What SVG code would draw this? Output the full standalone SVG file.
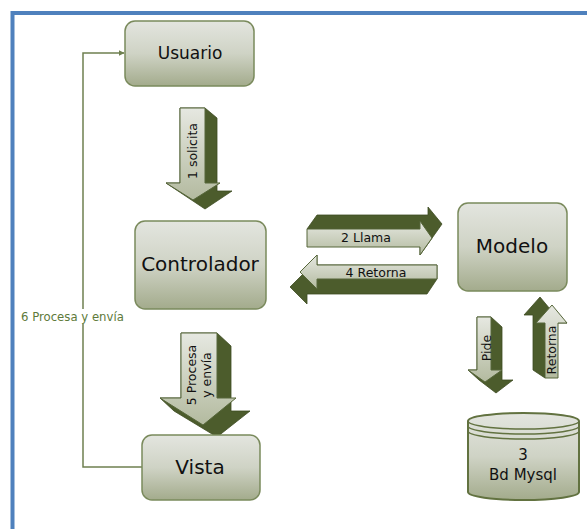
<svg xmlns="http://www.w3.org/2000/svg" width="587" height="529" viewBox="0 0 587 529">
<defs>
<linearGradient id="gNode" x1="0" y1="0" x2="0" y2="1">
<stop offset="0" stop-color="#e3e5df"/>
<stop offset="0.5" stop-color="#cfd3c5"/>
<stop offset="1" stop-color="#a3ab8c"/>
</linearGradient>
<linearGradient id="gFront" x1="0" y1="0" x2="0" y2="1">
<stop offset="0" stop-color="#e6e8e1"/>
<stop offset="1" stop-color="#b3ba9f"/>
</linearGradient>
<linearGradient id="gFrontH" x1="0" y1="0" x2="1" y2="0">
<stop offset="0" stop-color="#e6e8e1"/>
<stop offset="1" stop-color="#c0c6ae"/>
</linearGradient>
<marker id="ah" viewBox="0 0 10 10" refX="9" refY="5" markerWidth="6" markerHeight="6" orient="auto" markerUnits="userSpaceOnUse">
<path d="M0,0 L10,5 L0,10 Z" fill="#6f8050"/>
</marker>
<style>
.node{fill:url(#gNode);stroke:#7a8a5c;stroke-width:1.5}
.lbl{font-family:"DejaVu Sans",sans-serif;fill:#111;text-anchor:middle}
.dark{fill:#4c5c2c;stroke:#3e4b22;stroke-width:0.8;stroke-linejoin:round}
.front{fill:url(#gFront);stroke:#56663a;stroke-width:1;stroke-linejoin:round}
.al{font-family:"DejaVu Sans",sans-serif;fill:#111;text-anchor:middle;font-size:12.5px}
.conn{fill:none;stroke:#6f8050;stroke-width:1.5}
</style>
</defs>
<rect width="587" height="529" fill="#ffffff"/>
<path d="M12.5,529 V13 H587" fill="none" stroke="#4f81bd" stroke-width="4"/>

<g id="connectors">
<path class="conn" d="M142,467 H83 V53 H124" marker-end="url(#ah)"/>
<rect x="19" y="309" width="115" height="15" fill="#ffffff"/>
<text x="21" y="321" font-family="DejaVu Sans, sans-serif" font-size="11.7" fill="#5e7a3a">6 Procesa y envía</text>

<g id="arrow1">
<polygon class="dark" points="180,108 205,108 217,118 217,191 232,191 205,209 178,191 166,183 180,183"/>
<polygon class="front" fill="url(#gFrontH)" points="180,108 205,108 205,183 220,183 193,200 166,183 180,183"/>
<text class="al" transform="translate(197,151) rotate(-90)">1 solicita</text>
</g>

<g id="arrow5">
<polygon class="dark" points="181,333 217,333 231,346 231,411 250,411 217,437 174,411 160,398 181,398"/>
<polygon class="front" points="181,333 217,333 217,398 236,398 203,425 160,398 181,398"/>
<text class="al" font-size="13" transform="translate(196,375) rotate(-90)">5 Procesa</text>
<text class="al" font-size="13" transform="translate(211,375) rotate(-90)">y envía</text>
</g>

<g id="arrow2">
<polygon class="dark" points="307,229 317,215 428,215 428,207 442,224 430,241 420,255 420,229"/>
<polygon class="front" points="307,229 420,229 420,221 432,238 420,255 420,247 307,247"/>
<text class="al" font-size="12" x="366" y="242">2 Llama</text>
</g>

<g id="arrow4">
<polygon class="dark" points="317,255 307,270 290,287 307,304 307,294 427,294 437,279 437,265 317,265"/>
<polygon class="front" points="437,265 317,265 317,255 300,272 317,289 317,279 437,279"/>
<text class="al" font-size="12.5" x="376" y="277">4 Retorna</text>
</g>

<g id="arrowPide">
<polygon class="dark" points="477,317 491,317 502,327 502,380 513,380 496,393 479,380 468,370 477,370"/>
<polygon class="front" points="477,317 491,317 491,370 502,370 485,382 468,370 477,370"/>
<text class="al" font-size="12.5" transform="translate(491,348) rotate(-90)">Pide</text>
</g>

<g id="arrowRetorna">
<polygon class="dark" points="545,378 533,370 533,315 524,315 540,297 555,315 567,323 545,323"/>
<polygon class="front" points="545,378 558,378 558,323 567,323 552,305 536,323 545,323"/>
<text class="al" font-size="12.5" transform="translate(556,350) rotate(-90)">Retorna</text>
</g>
</g>

<g id="usuario">
<rect class="node" x="125" y="21" width="129" height="65" rx="10"/>
<text class="lbl" x="190" y="59" font-size="17">Usuario</text>
</g>

<g id="controlador">
<rect class="node" x="135" y="221" width="131" height="88" rx="10"/>
<text class="lbl" x="200" y="271" font-size="20">Controlador</text>
</g>

<g id="modelo">
<rect class="node" x="458" y="203" width="109" height="88" rx="10"/>
<text class="lbl" x="512" y="253" font-size="20">Modelo</text>
</g>

<g id="vista">
<rect class="node" x="142" y="435" width="118" height="65" rx="10"/>
<text class="lbl" x="200" y="474" font-size="20">Vista</text>
</g>

<g id="bd">
<path d="M468,421 V492 A55.5,8 0 0 0 579,492 V421 A55.5,8 0 0 0 468,421 Z" fill="url(#gNode)" stroke="#627240" stroke-width="2"/>
<path d="M468,421 A55.5,8 0 0 0 579,421" fill="none" stroke="#627240" stroke-width="1.5"/>
<path d="M468,426 A55.5,8 0 0 0 579,426" fill="none" stroke="#627240" stroke-width="1.5"/>
<path d="M468,431 A55.5,8 0 0 0 579,431" fill="none" stroke="#627240" stroke-width="1.5"/>
<text class="lbl" x="523" y="460" font-size="15">3</text>
<text class="lbl" x="523" y="480" font-size="15">Bd Mysql</text>
</g>
</svg>
